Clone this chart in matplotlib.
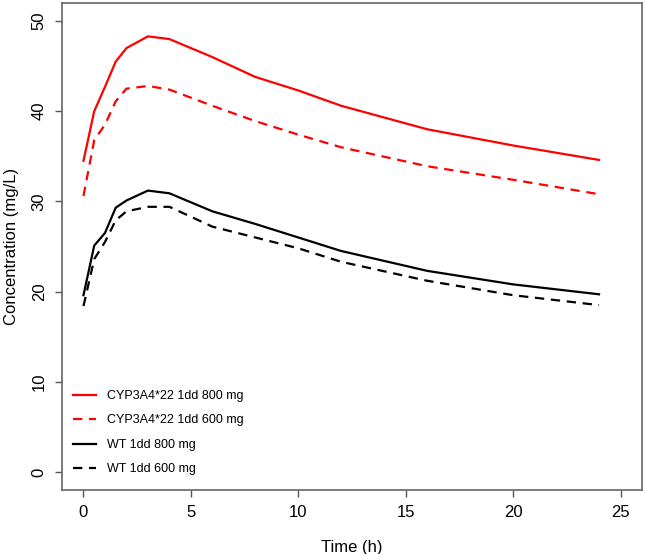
import matplotlib
matplotlib.use('Agg')
import matplotlib.pyplot as plt

plt.rcParams['font.family'] = ['Liberation Sans', 'DejaVu Sans']

# sampling times (h)
time_h = [0, 0.5, 1, 1.5, 2, 3, 4, 5, 6, 8, 10, 12, 16, 20, 24]

# concentration (mg/L)
cyp_800 = [34.5, 40.0, 42.7, 45.5, 47.0, 48.3, 48.0, 47.0, 46.0, 43.8, 42.3, 40.6, 38.0, 36.2, 34.6]
cyp_600 = [30.6, 36.8, 38.5, 41.1, 42.5, 42.8, 42.4, 41.5, 40.6, 38.9, 37.4, 36.0, 33.9, 32.4, 30.8]
wt_800 = [19.6, 25.1, 26.5, 29.3, 30.1, 31.2, 30.9, 29.9, 28.9, 27.5, 26.0, 24.5, 22.3, 20.8, 19.7]
wt_600 = [18.4, 23.6, 25.5, 27.9, 28.9, 29.4, 29.4, 28.3, 27.2, 26.0, 24.8, 23.3, 21.2, 19.6, 18.5]

labels = ['CYP3A4*22 1dd 800 mg', 'CYP3A4*22 1dd 600 mg', 'WT 1dd 800 mg', 'WT 1dd 600 mg']
xticks = [0, 5, 10, 15, 20, 25]
yticks = [0, 10, 20, 30, 40, 50]

fig = plt.figure(figsize=(6.46, 5.54), dpi=100)
ax = fig.add_axes([62 / 646, 64 / 554, 580 / 646, 487 / 554])

dash = (0, (4.2, 3.0))
lw = 1.6
ax.plot(time_h, cyp_800, color='#ff0000', lw=lw, label=labels[0])
ax.plot(time_h, cyp_600, color='#ff0000', lw=lw, linestyle=dash, label=labels[1])
ax.plot(time_h, wt_800, color='black', lw=lw, label=labels[2])
ax.plot(time_h, wt_600, color='black', lw=lw, linestyle=dash, label=labels[3])

ax.set_xlim(-1, 26)
ax.set_ylim(-2, 52)
ax.set_xticks(xticks)
ax.set_yticks(yticks)
ax.set_xticklabels([str(x) for x in xticks], fontsize=12)
ax.set_yticklabels([str(y) for y in yticks], fontsize=12, rotation=90, va='center')
ax.tick_params(direction='out', length=5, width=1, color='#555555', pad=6)

for s in ax.spines.values():
    s.set_color('#666666')
    s.set_linewidth(1.2)

ax.set_xlabel('Time (h)', fontsize=12, labelpad=14)
ax.set_ylabel('Concentration (mg/L)', fontsize=12, labelpad=9)

ax.legend(loc='lower left', bbox_to_anchor=(0.019, 0.03), frameon=False, fontsize=9,
          handlelength=1.85, handletextpad=0.9, labelspacing=1.0,
          borderpad=0, borderaxespad=0)

fig.savefig('out.png', dpi=100)
